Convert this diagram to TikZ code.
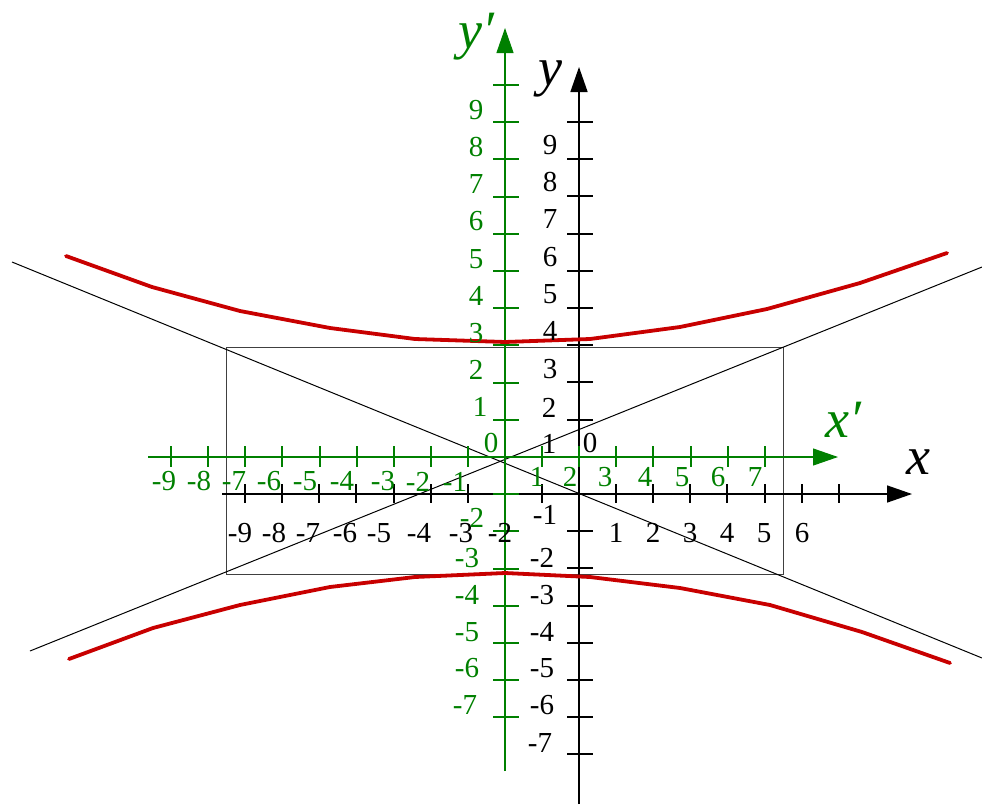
\documentclass[tikz,border=0pt]{standalone}
\usepackage{fontspec}
\setmainfont{Liberation Serif}
\usetikzlibrary{arrows.meta}
\definecolor{gr}{RGB}{0,128,0}
\definecolor{rd}{RGB}{200,0,0}
\tikzset{
  axisb/.style={line width=1.5pt,black,-{Triangle[length=25pt,width=17pt]}},
  axisg/.style={line width=1.1pt,gr,-{Triangle[length=25pt,width=17pt]}},
  tickb/.style={line width=2pt,black},
  tickg/.style={line width=2pt,gr},
  num/.style={inner sep=0pt,font=\fontsize{29}{32}\selectfont},
  numg/.style={num,text=gr},
  big/.style={inner sep=0pt,anchor=base west,font=\fontsize{54}{60}\selectfont\itshape},
  asym/.style={line width=1pt,black},
  hyp/.style={line width=3.8pt,rd,line join=round,line cap=round}
}
\begin{document}
\begin{tikzpicture}[x=1pt,y=-1pt]
\useasboundingbox (0,0) rectangle (982,806);
% rectangle and asymptotes
\draw[line width=1pt,black!75] (226,347) rectangle (783,574);
\coordinate (a1s) at (12,262); \coordinate (a1e) at (982,658);
\coordinate (a2s) at (30,651); \coordinate (a2e) at (982,267);
\draw[asym] (a1s) -- (a1e);
\draw[asym] (a2s) -- (a2e);
% black axes
\coordinate (bxs) at (222,494); \coordinate (bxe) at (912,494);
\coordinate (bys) at (579,804); \coordinate (bye) at (579,67);
\draw[axisb] (bxs) -- (bxe);
\draw[axisb] (bys) -- (bye);
\foreach \i in {-9,...,-1,1,2,...,7} \draw[tickb] ({579+37.1*\i},484) -- ({579+37.1*\i},503);
\foreach \j in {-7,...,-1,1,2,...,10} \draw[tickb] (567,{494-37.2*\j}) -- (593,{494-37.2*\j});
% green axes
\coordinate (gxs) at (148,457); \coordinate (gxe) at (838,457);
\coordinate (gys) at (505,771); \coordinate (gye) at (505,28);
\draw[axisg] (gxs) -- (gxe);
\draw[axisg] (gys) -- (gye);
\foreach \i in {-9,...,-1,1,2,...,7} \draw[tickg] ({505+37.1*\i},446) -- ({505+37.1*\i},467);
\foreach \j in {-7,...,-1,1,2,...,10} \draw[tickg] (493,{457-37.2*\j}) -- (519,{457-37.2*\j});
% hyperbola
\draw[hyp] (66,256) -- (152,287) -- (240,311) -- (330,328) -- (415,339) -- (505,342) -- (590,339) -- (680,327) -- (767,309) -- (860,283) -- (947,253);
\draw[hyp] (69,659) -- (153,628) -- (240,605) -- (330,587) -- (415,577) -- (505,573) -- (590,577) -- (680,588) -- (770,605) -- (862,632) -- (950,663);
% black x labels
\foreach \x/\t [count=\k] in {240/-9,274/-8,308/-7,345/-6,379/-5,419/-4,461/-3,500/-2,616/1,653/2,690/3,727/4,764/5,802/6}
  \node[num] (bxl\k) at (\x,533) {\t};
% black y labels
\foreach \x/\y/\t [count=\k] in {550/145/9,550/182/8,550/219/7,550/257/6,550/294/5,550/331/4,550/369/3,549/408/2,549/444/1,590/443/0,545/515/-1,542/558/-2,542/595/-3,542/632/-4,542/668/-5,542/705/-6,540/743/-7}
  \node[num] (byl\k) at (\x,\y) {\t};
% green x' labels
\foreach \x/\y/\t [count=\k] in {164/481/-9,199/481/-8,234/481/-7,269/481/-6,305/481/-5,342/481/-4,383/481/-3,418/482/-2,455/482/-1,537/477/1,570/477/2,605/477/3,645/477/4,682/477/5,718/477/6,755/477/7}
  \node[numg] (gxl\k) at (\x,\y) {\t};
% green y' labels
\foreach \x/\y/\t [count=\k] in {476/110/9,476/147/8,476/184/7,476/221/6,476/259/5,476/296/4,476/333/3,476/370/2,480/407/1,491/443/0,472/518/-2,467/558/-3,467/595/-4,467/632/-5,467/668/-6,465/705/-7}
  \node[numg] (gyl\k) at (\x,\y) {\t};
% axis names
\node[big] (lx) at (906,474) {x};
\node[big,text=gr] (lxp) at (825,437) {x′};
\node[big] (ly) at (538,85) {y};
\node[big,text=gr] (lyp) at (458,48) {y′};
\end{tikzpicture}
\end{document}
